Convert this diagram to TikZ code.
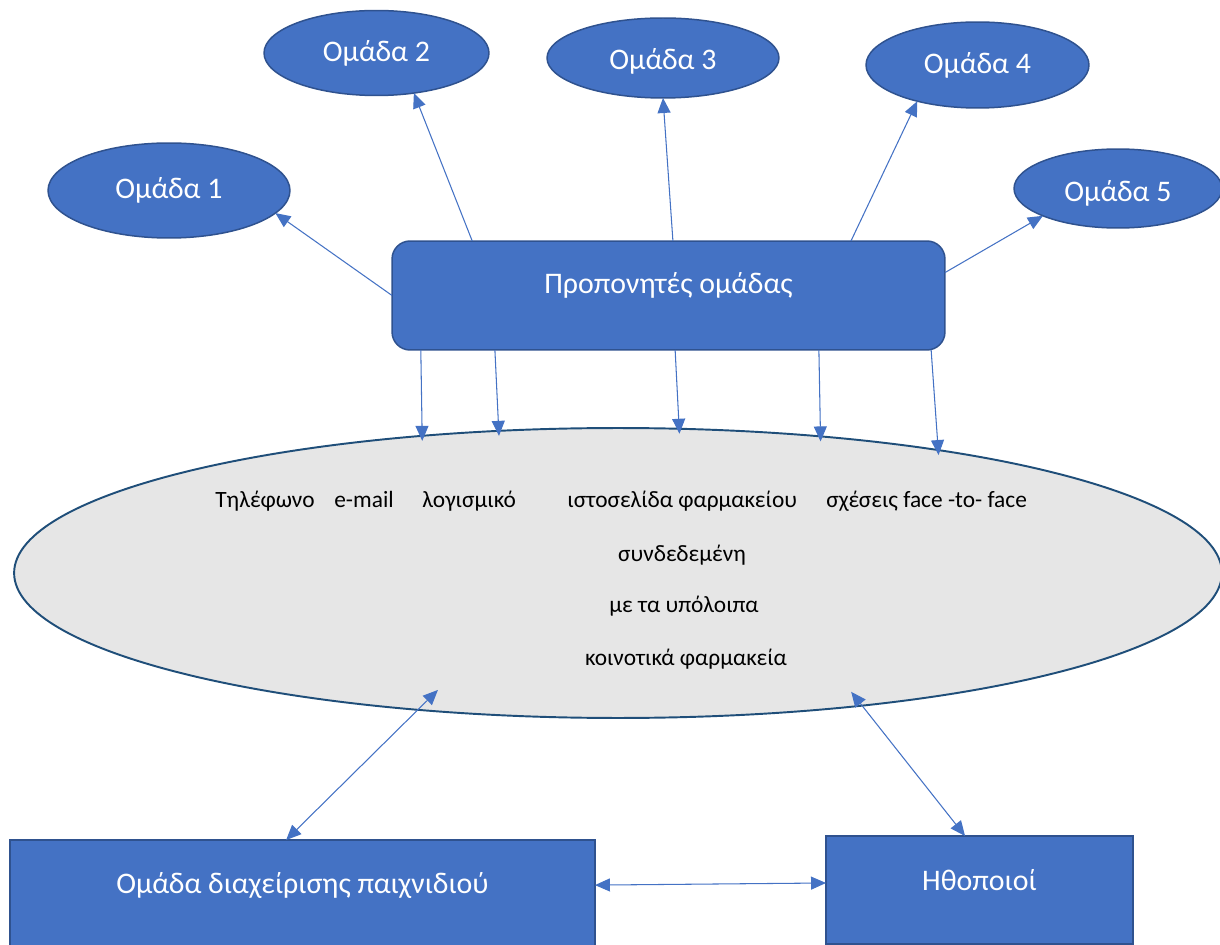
\documentclass[tikz,border=0pt]{standalone}
\usepackage{fontspec}
\setmainfont{Carlito}
\usetikzlibrary{arrows.meta,calc,shapes.geometric}
\definecolor{bfill}{HTML}{4472C4}
\definecolor{bline}{HTML}{2F528F}
\definecolor{gfill}{HTML}{E6E6E6}
\definecolor{gline}{HTML}{1F4E79}
\begin{document}
\begin{tikzpicture}[x=0.02cm,y=-0.02cm,
  team/.style={ellipse,draw=bline,fill=bfill,line width=0.85pt,inner sep=0pt,outer sep=0pt,
    text=white,font=\fontsize{17}{20}\selectfont,text height=0.8em+0.12cm,text depth=0.16em},
  bluebox/.style={rectangle,draw=bline,fill=bfill,line width=0.85pt,inner sep=0pt,outer sep=0pt,
    text=white,font=\fontsize{17}{20}\selectfont,text height=0.8em},
  tip/.tip={Triangle[length=0.3cm,width=0.26cm]},
  conn/.style={draw=bfill,line width=0.6pt,-tip},
  conntwo/.style={draw=bfill,line width=0.6pt,tip-tip},
  etext/.style={font=\fontsize{13.3}{16}\selectfont,inner sep=0pt,text=black}]
\useasboundingbox (0,0) rectangle (1220,945);
\clip (0,0) rectangle (1220,945);

% team ellipses
\node[team,minimum width=4.84cm,minimum height=1.9cm,text height=0.8em+0.08cm] (o1) at (169,190.5) {Ομάδα 1};
\node[team,minimum width=4.5cm,minimum height=1.7cm] (o2) at (376.5,53) {Ομάδα 2};
\node[team,minimum width=4.64cm,minimum height=1.6cm,text height=0.8em+0.24cm] (o3) at (663,58) {Ομάδα 3};
\node[team,minimum width=4.46cm,minimum height=1.72cm] (o4) at (977.5,65) {Ομάδα 4};
\node[team,minimum width=4.16cm,minimum height=1.58cm,text height=0.8em+0.28cm] (o5) at (1118,188.5) {Ομάδα 5};

% coaches
\node[bluebox,rounded corners=0.36cm,minimum width=11.06cm,minimum height=2.18cm,
  text depth=0.16em+0.3cm] (coach) at (668.5,295.5) {Προπονητές ομάδας};

% big ellipse
\node[ellipse,draw=gline,fill=gfill,line width=1.1pt,inner sep=0pt,outer sep=0pt,
  minimum width=24.16cm,minimum height=5.8cm] (big) at (618,573) {};
\node[etext,anchor=base west] (t1) at (215,507) {Τηλέφωνο};
\node[etext,anchor=base west] (t2) at (334,507) {e-mail};
\node[etext,anchor=base west] (t3) at (422,507) {λογισμικό};
\node[etext,anchor=base west] (t4) at (567,507) {ιστοσελίδα φαρμακείου};
\node[etext,anchor=base west] (t5) at (826,507) {σχέσεις face -to- face};
\node[etext,anchor=base] (l2) at (682,561) {συνδεδεμένη};
\node[etext,anchor=base] (l3) at (684,612) {με τα υπόλοιπα};
\node[etext,anchor=base] (l4) at (686,665) {κοινοτικά φαρμακεία};

% bottom boxes
\node[bluebox,minimum width=11.7cm,minimum height=2.2cm,text depth=0.16em+0.28cm] (game) at (302.5,895)
  {Ομάδα διαχείρισης παιχνιδιού};
\node[bluebox,minimum width=6.14cm,minimum height=2.16cm,text depth=0.16em+0.2cm] (actors) at (979.5,890)
  {Ηθοποιοί};

% coach -> teams
\draw[conn] (coach.west) -- (o1.-12);
\draw[conn] ($(coach.north west)!0.145!(coach.north east)$) -- (o2.-47.5);
\draw[conn] ($(coach.north west)!0.508!(coach.north east)$) -- (o3.south);
\draw[conn] ($(coach.north west)!0.83!(coach.north east)$) -- (o4.-149);
\draw[conn] ($(coach.north east)!0.29!(coach.south east)$) -- (o5.-160);

% coach -> big ellipse
\draw[conn,shorten >=-0.1cm] ($(coach.south west)!0.052!(coach.south east)$) -- (big.145.2);
\draw[conn,shorten >=-0.1cm] ($(coach.south west)!0.186!(coach.south east)$) -- (big.130.2);
\draw[conn,shorten >=-0.1cm] ($(coach.south west)!0.512!(coach.south east)$) -- (big.67);
\draw[conn,shorten >=-0.1cm] ($(coach.south west)!0.772!(coach.south east)$) -- (big.34.5);
\draw[conn,shorten >=-0.1cm] ($(coach.south west)!0.975!(coach.south east)$) -- (big.21.1);

% bottom connections
\draw[conntwo] ($(game.north west)!0.472!(game.north east)$) -- ($(big.center)!0.86!(big.-147.1)$);
\draw[conntwo] ($(actors.north west)!0.453!(actors.north east)$) -- ($(big.center)!0.906!(big.-27.2)$);
\draw[conntwo] ($(game.north east)!0.41!(game.south east)$) -- ($(actors.north west)!0.435!(actors.south west)$);
\end{tikzpicture}
\end{document}
